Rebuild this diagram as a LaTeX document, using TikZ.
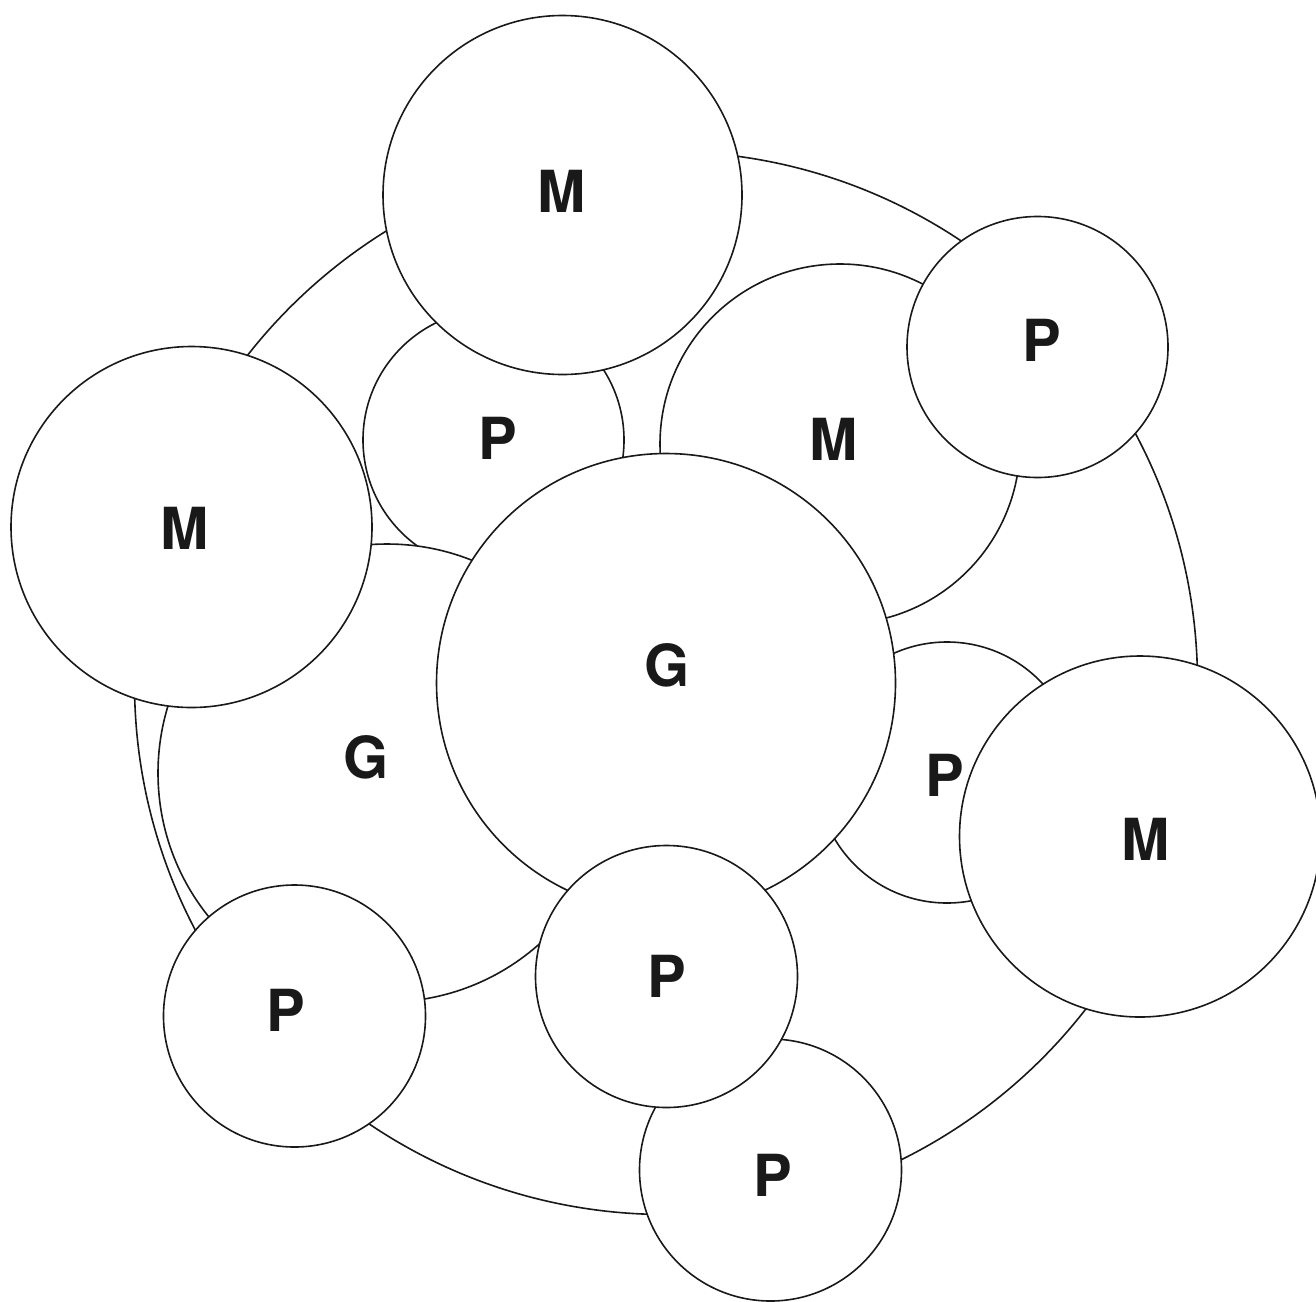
\documentclass[tikz,border=0pt]{standalone}
\usepackage{fontspec}
\newfontfamily\lblfont{TeX Gyre Heros}
\begin{document}
\begin{tikzpicture}[x=1pt,y=-1pt,
  disc/.style={circle,draw=black!90,line width=1.6pt,fill=white,inner sep=0pt,minimum size=#1},
  lbl/.style={inner sep=0pt,text=black!90,font=\lblfont\bfseries\fontsize{58}{60}\selectfont}]
\useasboundingbox (0,0) rectangle (1316,1301);
% circles, back to front
\node[disc=1063pt] (outer) at (666,683) {};
\node[disc=360pt] (mmid) at (840,444) {};
\node[disc=261pt] (pul) at (493.5,440) {};
\node[disc=458pt] (gleft) at (387,773) {};
\node[disc=261pt] (prm) at (947,772.5) {};
\node[disc=459pt] (gcen) at (666,683) {};
\node[disc=359pt] (mtop) at (562.5,195) {};
\node[disc=261pt] (ptr) at (1037.5,347) {};
\node[disc=361pt] (mleft) at (191.5,527) {};
\node[disc=361pt] (mright) at (1140,836.5) {};
\node[disc=262pt] (pbl) at (294.5,1016) {};
\node[disc=262pt] (pbot) at (770.5,1170) {};
\node[disc=262pt] (pbm) at (666.5,976.5) {};
% labels
\node[lbl] (tmtop) at (562,191) {M};
\node[lbl] (tmmid) at (833.5,439) {M};
\node[lbl] (tptr) at (1042,340) {P};
\node[lbl] (tpul) at (498,438) {P};
\node[lbl] (tmleft) at (185,528) {M};
\node[lbl] (tgcen) at (667,665) {G};
\node[lbl] (tgleft) at (366,757) {G};
\node[lbl] (tprm) at (945,775) {P};
\node[lbl] (tmright) at (1146,839) {M};
\node[lbl] (tpbm) at (667,976) {P};
\node[lbl] (tpbot) at (773,1175) {P};
\node[lbl] (tpbl) at (286,1010) {P};
\end{tikzpicture}
\end{document}
